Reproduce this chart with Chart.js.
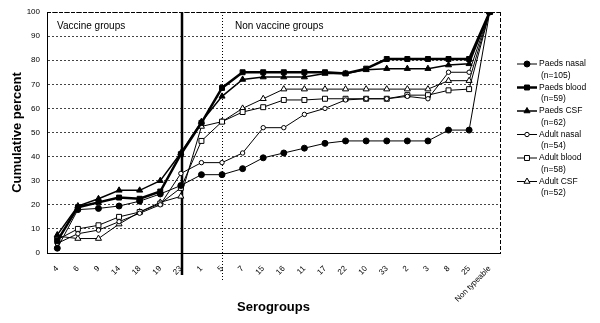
<!DOCTYPE html>
<html>
<head>
<meta charset="utf-8">
<script src="https://cdn.jsdelivr.net/npm/chart.js"></script>
<style>
  body { margin: 0; background: #fff; }
  #wrap { width: 600px; height: 323px; }
</style>
</head>
<body>
<div id="wrap"><canvas id="myChart" width="600" height="323"></canvas></div>
<script>
// serogroups along the x axis
const categories = ['4', '6', '9', '14', '18', '19', '23', '1', '5', '7', '15', '16', '11', '17', '22', '10', '33', '2', '3', '8', '25', 'Non typeable'];

// cumulative percent per group
const paedsNasal = [2, 18, 18.5, 19.5, 21.5, 24.5, 28, 32.5, 32.5, 35, 39.5, 41.5, 43.5, 45.5, 46.5, 46.5, 46.5, 46.5, 46.5, 51, 51, 100];
const paedsBlood = [5, 19, 21, 23, 22.5, 25.5, 41, 54, 68.5, 75, 75, 75, 75, 75, 74.5, 76.5, 80.5, 80.5, 80.5, 80.5, 80.5, 100];
const paedsCSF = [7.5, 19.5, 22.5, 26, 26, 30, 41.5, 54.5, 65, 72, 73, 73, 73, 74.5, 74.5, 76, 76.5, 76.5, 76.5, 78, 78.5, 100];
const adultNasal = [4, 8, 9.5, 13, 16.5, 20, 33, 37.5, 37.5, 41.5, 52, 52, 57.5, 60, 63.5, 64, 64, 65, 64, 75, 75, 100];
const adultBlood = [5.5, 10, 11.5, 15, 17, 20.5, 27, 46.5, 54.5, 58.5, 60.5, 63.5, 63.5, 64, 64, 64, 64, 65.5, 65.5, 67.5, 68, 100];
const adultCSF = [7, 6, 6, 12, 17, 21, 23.5, 52.5, 54.5, 60, 64, 68, 68, 68, 68, 68, 68, 68, 68, 71.5, 71.5, 100];

const seriesNames = ['Paeds nasal', 'Paeds blood', 'Paeds CSF', 'Adult nasal', 'Adult blood', 'Adult CSF'];
const seriesN = ['(n=105)', '(n=59)', '(n=62)', '(n=54)', '(n=58)', '(n=52)'];
const yTicks = [0, 10, 20, 30, 40, 50, 60, 70, 80, 90, 100];

const FONT = "'Liberation Sans', Arial, sans-serif";

function ds(label, data, style, radius, fill, width) {
  return {
    label: label,
    data: data,
    borderColor: '#000',
    borderWidth: width,
    pointStyle: style,
    pointRadius: radius,
    pointHoverRadius: radius,
    pointBackgroundColor: fill,
    pointBorderColor: '#000',
    pointBorderWidth: 1,
    tension: 0
  };
}

// separators, group captions, dashed frame
const decorations = {
  id: 'decorations',
  beforeDatasetsDraw(chart) {
    const ctx = chart.ctx;
    const a = chart.chartArea;
    const x = chart.scales.x;
    ctx.save();
    ctx.strokeStyle = '#000';
    // dashed frame top/right
    ctx.lineWidth = 1;
    ctx.setLineDash([4, 2]);
    ctx.beginPath();
    ctx.moveTo(a.left, a.top + 0.5);
    ctx.lineTo(a.right, a.top + 0.5);
    ctx.moveTo(a.right + 0.5, a.top);
    ctx.lineTo(a.right + 0.5, a.bottom);
    ctx.stroke();
    // dotted line after group 5
    const xd = Math.round(x.getPixelForValue(8)) + 0.5;
    ctx.setLineDash([1, 2]);
    ctx.beginPath();
    ctx.moveTo(xd, a.top);
    ctx.lineTo(xd, a.bottom + 27);
    ctx.stroke();
    // solid line at group 23
    const xs = Math.round(x.getPixelForValue(6)) + 1;
    ctx.setLineDash([]);
    ctx.lineWidth = 2.5;
    ctx.beginPath();
    ctx.moveTo(xs, a.top);
    ctx.lineTo(xs, a.bottom + 22);
    ctx.stroke();
    // captions
    ctx.fillStyle = '#000';
    ctx.font = '10px ' + FONT;
    ctx.textBaseline = 'middle';
    ctx.fillText('Vaccine groups', a.left + 10, a.top + 14);
    ctx.fillText('Non vaccine groups', xs + 53, a.top + 14);
    ctx.restore();
  },
  afterDraw(chart) {
    // legend on the right, two lines per entry
    const ctx = chart.ctx;
    ctx.save();
    chart.data.datasets.forEach(function(d, i) {
      const y = 64 + i * 23.5;
      ctx.strokeStyle = '#000';
      ctx.lineWidth = d.borderWidth;
      ctx.setLineDash([]);
      ctx.beginPath();
      ctx.moveTo(517, y);
      ctx.lineTo(537, y);
      ctx.stroke();
      ctx.fillStyle = d.pointBackgroundColor;
      ctx.lineWidth = 1;
      Chart.helpers.drawPoint(ctx, { pointStyle: d.pointStyle, radius: d.pointRadius, borderWidth: 1 }, 527, y);
      ctx.fillStyle = '#000';
      ctx.font = '8.5px ' + FONT;
      ctx.textBaseline = 'middle';
      ctx.fillText(seriesNames[i], 539, y);
      ctx.fillText(seriesN[i], 541, y + 11.5);
    });
    ctx.restore();
  }
};

const data = {
  labels: categories,
  datasets: [
    ds(seriesNames[0], paedsNasal, 'circle', 3, '#000', 1),
    ds(seriesNames[1], paedsBlood, 'rect', 3.5, '#000', 2.5),
    ds(seriesNames[2], paedsCSF, 'triangle', 3.5, '#000', 1.5),
    ds(seriesNames[3], adultNasal, 'circle', 2.2, '#fff', 1),
    ds(seriesNames[4], adultBlood, 'rect', 3.5, '#fff', 1),
    ds(seriesNames[5], adultCSF, 'triangle', 3.5, '#fff', 1)
  ]
};

const config = {
  type: 'line',
  data,
  options: {
    responsive: false,
    animation: false,
    devicePixelRatio: 1,
    layout: { padding: { left: 0, top: 12, right: 100, bottom: 0 } },
    plugins: {
      legend: { display: false },
      tooltip: { enabled: false }
    },
    scales: {
      x: {
        offset: true,
        grid: { display: false, offset: true },
        border: { display: true, color: '#000', width: 1, dash: [4, 2] },
        ticks: {
          color: '#000',
          font: { family: FONT, size: 8 },
          minRotation: 45,
          maxRotation: 45,
          autoSkip: false,
          padding: 3
        },
        title: {
          display: true,
          text: 'Serogroups',
          color: '#000',
          font: { family: FONT, size: 13, weight: 'bold' },
          padding: { top: 0, bottom: 8 }
        },
        afterFit(scale) { scale.height = 70; }
      },
      y: {
        min: 0,
        max: 100,
        afterBuildTicks(scale) { scale.ticks = yTicks.map(v => ({ value: v })); },
        grid: { color: '#444', lineWidth: 1, drawTicks: false },
        border: { display: true, color: '#000', width: 1, dash: [2, 2] },
        ticks: {
          color: '#000',
          font: { family: FONT, size: 8 },
          padding: 7
        },
        title: {
          display: true,
          text: 'Cumulative percent',
          color: '#000',
          font: { family: FONT, size: 13, weight: 'bold' },
          padding: { top: 10, bottom: 0 }
        },
        afterFit(scale) { scale.width = 47; }
      }
    }
  },
  plugins: [decorations]
};

const myChart = new Chart(document.getElementById('myChart'), config);
</script>
</body>
</html>
